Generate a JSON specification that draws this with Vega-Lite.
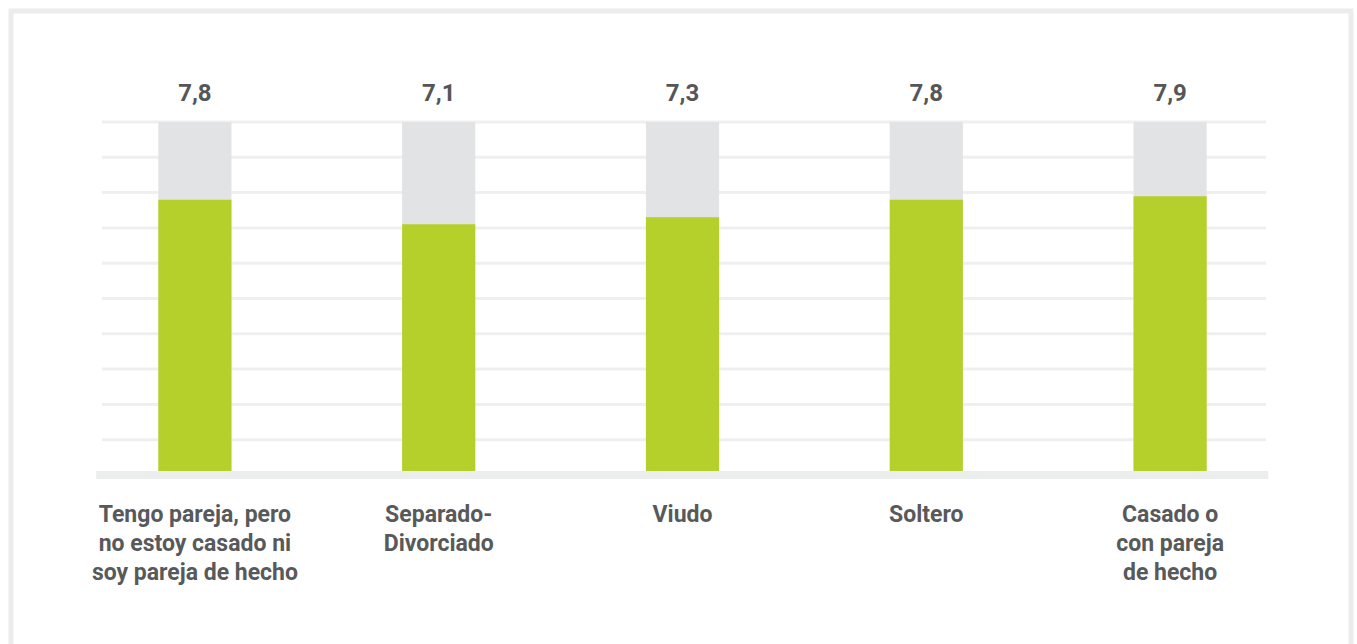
{
  "$schema": "https://vega.github.io/schema/vega-lite/v6.json",
  "autosize": {"type": "none"},
  "width": 1340,
  "height": 633,
  "padding": {"left": 11, "top": 11, "right": 6, "bottom": 0},
  "background": "#ffffff",
  "config": {
    "view": {"stroke": "#ececec", "strokeWidth": 5, "strokeDash": [1973, 1340, 633]},
    "font": "Roboto"
  },
  "data": {
    "values": [
      {"cat": "Tengo pareja, pero\nno estoy casado ni\nsoy pareja de hecho", "value": 7.8, "label": "7,8"},
      {"cat": "Separado-\nDivorciado", "value": 7.1, "label": "7,1"},
      {"cat": "Viudo", "value": 7.3, "label": "7,3"},
      {"cat": "Soltero", "value": 7.8, "label": "7,8"},
      {"cat": "Casado o\ncon pareja\nde hecho", "value": 7.9, "label": "7,9"}
    ]
  },
  "resolve": {"scale": {"x": "independent"}},
  "layer": [
    {
      "data": {"values": [{"g": 1}, {"g": 2}, {"g": 3}, {"g": 4}, {"g": 5}, {"g": 6}, {"g": 7}, {"g": 8}, {"g": 9}, {"g": 10}]},
      "mark": {"type": "rule", "color": "#efefef", "strokeWidth": 3},
      "encoding": {
        "y": {"field": "g", "type": "quantitative", "scale": {"domain": [0, 10], "range": [464, 111]}, "axis": null},
        "x": {"datum": 0, "type": "quantitative", "scale": {"domain": [0, 1], "range": [91, 1255]}, "axis": null},
        "x2": {"datum": 1}
      }
    },
    {
      "layer": [
        {
          "mark": {"type": "bar", "color": "#e2e3e5"},
          "encoding": {
            "x": {"field": "cat", "type": "nominal", "sort": null, "scale": {"range": [62, 1281], "paddingInner": 0.7, "paddingOuter": 0.35}, "axis": null},
            "y": {"datum": 10, "type": "quantitative"}
          }
        },
        {
          "mark": {"type": "bar", "color": "#b5cf2b"},
          "encoding": {
            "x": {"field": "cat", "type": "nominal", "sort": null},
            "y": {"field": "value", "type": "quantitative"}
          }
        },
        {
          "mark": {"type": "text", "fontSize": 24, "fontWeight": "bold", "color": "#555658", "baseline": "alphabetic", "dy": -21},
          "encoding": {
            "x": {"field": "cat", "type": "nominal", "sort": null},
            "y": {"datum": 10, "type": "quantitative"},
            "text": {"field": "label"}
          }
        },
        {
          "mark": {"type": "text", "fontSize": 23, "fontWeight": "bold", "color": "#58595b", "baseline": "alphabetic", "dy": 47, "lineBreak": "\n", "lineHeight": 29},
          "encoding": {
            "x": {"field": "cat", "type": "nominal", "sort": null},
            "y": {"datum": 0, "type": "quantitative"},
            "text": {"field": "cat"}
          }
        }
      ]
    },
    {
      "data": {"values": [{"b": 0}]},
      "mark": {"type": "rule", "color": "#eceeee", "strokeWidth": 8},
      "encoding": {
        "y": {"field": "b", "type": "quantitative"},
        "x": {"datum": -0.005, "type": "quantitative", "scale": {"domain": [0, 1], "range": [91, 1255]}, "axis": null},
        "x2": {"datum": 1.002}
      }
    }
  ]
}
